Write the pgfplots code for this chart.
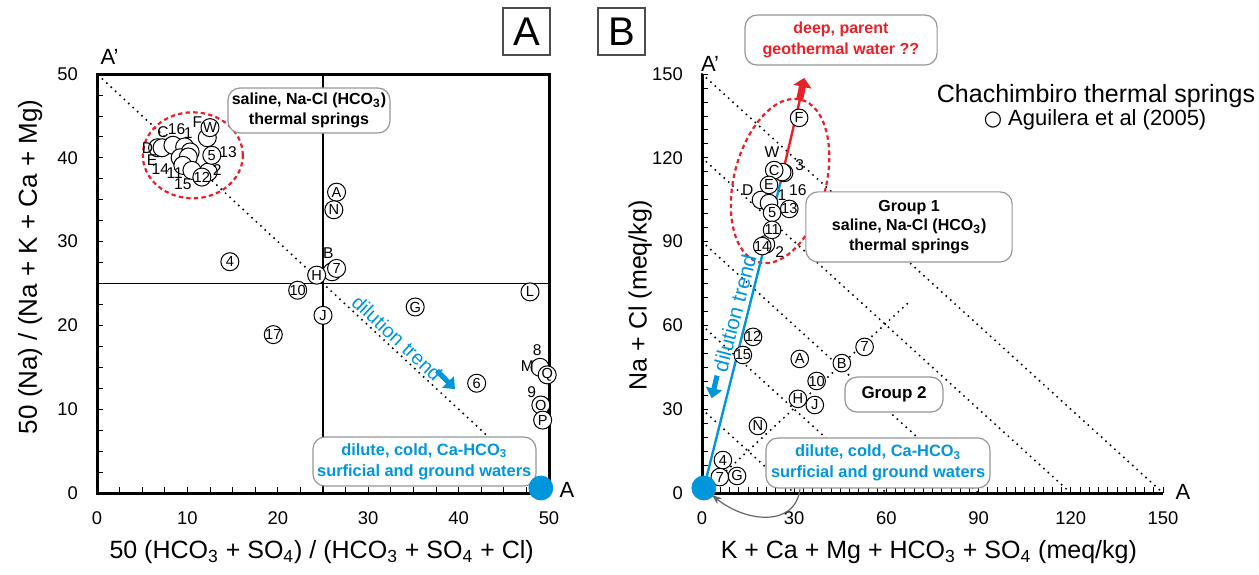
\documentclass[border=0pt]{standalone}
\usepackage{fontspec}
\setmainfont{Liberation Sans}
\newfontfamily\dejavu{DejaVu Sans}
\usepackage{pgfplots}
\usepackage{pgfplotstable}
\pgfplotsset{compat=1.18}
\usetikzlibrary{arrows.meta,shapes.geometric}
\definecolor{myblue}{RGB}{0,150,219}
\definecolor{myred}{RGB}{232,32,40}
\definecolor{boxgray}{RGB}{150,150,150}
\newcommand{\fs}[2]{\fontsize{#1}{#2}\selectfont}

% Panel A: circles with label inside
\pgfplotstableread{
x y lab
12.5 43.6 W
12.7 40.3 5
11.6 37.7 12
26.5 35.9 A
26.2 33.8 N
26.5 26.8 7
24.3 26.0 H
22.2 24.2 10
25.0 21.2 J
19.5 18.9 17
14.7 27.6 4
35.2 22.2 G
47.9 24.0 L
42.0 13.1 6
49.8 14.1 Q
49.1 10.5 O
49.3 8.7 P
}\Ain
% Panel A: circles without inner label
\pgfplotstableread{
x y
6.7 41.2
7.2 41.2
8.4 41.5
9.7 41.3
12.2 42.4
10.3 40.7
9.2 40.0
10.1 40.1
9.5 39.1
10.5 38.5
12.3 38.3
26.0 26.4
49.0 15.0
}\Anol
% Panel A: outside labels
\pgfplotstableread{
x y lab
11.1 44.2 F
7.3 43.1 C
8.8 43.4 16
10.1 43.0 1
5.6 41.2 D
6.1 39.7 E
7.0 38.6 14
8.6 38.2 11
9.5 36.8 15
14.5 40.7 13
13.3 38.5 2
25.6 28.6 B
48.7 17.1 8
47.6 15.2 M
48.1 12.0 9
}\Aout

% Panel B
\pgfplotstableread{
x y
26.7 114.6
26.1 114.9
19.2 104.9
21.8 103.8
20.8 89.0
}\Bnol
\pgfplotstableread{
x y lab
31.6 134.3 F
23.5 115.6 C
21.8 110.3 E
22.8 100.3 5
28.4 101.7 13
22.8 94.2 11
19.6 88.4 14
16.6 55.9 12
13.3 49.4 15
31.8 48.0 A
45.5 46.5 B
52.9 52.3 7
37.3 40.1 10
31.2 33.7 H
36.7 31.5 J
18.2 24.0 N
6.8 11.8 4
5.8 5.7 7
11.4 6.1 G
}\Bin
\pgfplotstableread{
x y lab
22.8 122.1 W
31.8 117.4 3
14.9 108.5 D
26.0 106.7 1
31.2 108.5 16
25.3 86.3 2
}\Bout

\tikzset{bx/.style={draw=boxgray, fill=white, rounded corners=6pt, line width=0.6pt}}
\pgfplotsset{
  ptA/.style={only marks, mark=*, mark size=4.5pt, mark options={fill=white, draw=black, line width=0.5pt}},
  ptB/.style={only marks, mark=*, mark size=4.4pt, mark options={fill=white, draw=black, line width=0.5pt}},
  labs/.style={nodes near coords, point meta=explicit symbolic, nodes near coords align={center},
     nodes near coords style={anchor=center, inner sep=0pt, font=\fs{7.3}{8}}},
  outl/.style={only marks, mark=none, nodes near coords, point meta=explicit symbolic, nodes near coords align={center},
     nodes near coords style={anchor=center, inner sep=0pt, font=\fs{7.8}{9}}},
  dotl/.style={black, line width=1.1pt, line cap=round, dash pattern=on 0pt off 3pt},
  common/.style={scale only axis, tick align=inside,
     major tick length=3pt, minor tick length=3pt,
     tick style={black, line width=0.4pt},
     axis line style={line width=1.5pt},
     ticklabel style={font=\fs{9.2}{11}},
     /pgf/number format/assume math mode=true,
     xticklabel style={yshift=-6pt}, yticklabel style={xshift=-6pt},
     clip=false},
}

\begin{document}
\begin{tikzpicture}
\path[use as bounding box] (0,0) rectangle (629.5pt,-287pt);

% ---------------- Panel A ----------------
\begin{axis}[common,
  at={(48.5pt,-246.5pt)}, anchor=south west, width=226pt, height=209.5pt,
  xmin=0,xmax=50,ymin=0,ymax=50,
  xtick={0,10,...,50}, ytick={0,10,...,50},
  minor xtick={0,2.5,...,50}, minor ytick={0,2.5,...,50},
  tick pos=left,
  xlabel={50 (HCO\textsubscript{3} + SO\textsubscript{4}) / (HCO\textsubscript{3} + SO\textsubscript{4} + Cl)},
  ylabel={50 (Na) / (Na + K + Ca + Mg)},
  xlabel style={font=\fs{12.5}{15}, at={(axis description cs:0.497,-0.141)}, anchor=center},
  ylabel style={font=\fs{13}{15}, at={(axis description cs:-0.148,0.54)}, anchor=center},
]
\addplot[black, line width=0.6pt] coordinates {(0,25) (50,25)};
\addplot[black, line width=0.6pt] coordinates {(25,0) (25,50)};
\addplot[dotl] coordinates {(0.6,49.4) (50,0)};
\node[draw=myred, line width=1.1pt, dash pattern=on 2.2pt off 1.6pt, ellipse, minimum width=50pt, minimum height=43pt, inner sep=0pt] at (axis cs:10.6,40.3) {};
\draw[bx] (axis cs:14.49,48.33) rectangle (axis cs:32.41,42.96);
\node[font=\bfseries\fs{8}{10}, align=center] at (axis cs:23.45,45.65) {saline, Na-Cl (HCO\textsubscript{3})\\thermal springs};
\draw[bx] (axis cs:23.89,6.68) rectangle (axis cs:48.56,0.84);
\node[font=\bfseries\fs{8.2}{10.5}, align=center, text=myblue] at (axis cs:36.2,3.76) {dilute, cold, Ca-HCO\textsubscript{3}\\surficial and ground waters};
\addplot[ptA] table[x=x,y=y] {\Anol};
\addplot[ptA, labs] table[x=x,y=y,meta=lab] {\Ain};
\addplot[outl] table[x=x,y=y,meta=lab] {\Aout};
\addplot[only marks, mark=*, mark size=6pt, mark options={fill=myblue, draw=myblue}] coordinates {(49.1,0.6)};
\node[font=\fs{11}{13}] at (axis cs:1.4,52.0) {A'};
\node[font=\fs{11}{13}] at (axis cs:52.0,0.4) {A};
\node[rotate=-43, font=\fs{10}{12}, text=myblue] at (axis cs:33.2,18.5) {dilution trend};
\draw[myblue, line width=2.6pt, -{Triangle[length=5pt,width=8pt]}] (axis cs:37.6,14.6) -- (axis cs:39.6,12.4);
\end{axis}

% ---------------- Panel B ----------------
\begin{axis}[common,
  at={(351pt,-246.5pt)}, anchor=south west, width=230.5pt, height=209.5pt,
  xmin=0,xmax=150,ymin=0,ymax=150,
  axis lines*=left,
  xtick={0,30,...,150}, ytick={0,30,...,150},
  minor xtick={0,3,...,150}, minor ytick={0,5,...,150},
  xlabel={K + Ca + Mg + HCO\textsubscript{3} + SO\textsubscript{4} (meq/kg)},
  ylabel={Na + Cl (meq/kg)},
  xlabel style={font=\fs{12.5}{15}, at={(axis description cs:0.492,-0.141)}, anchor=center},
  ylabel style={font=\fs{12.5}{15}, at={(axis description cs:-0.134,0.472)}, anchor=center},
]
\addplot[dotl] coordinates {(0,150) (150,0)};
\addplot[dotl] coordinates {(0,120) (120,0)};
\addplot[dotl] coordinates {(0,90) (90,0)};
\addplot[dotl] coordinates {(0,60) (60,0)};
\addplot[dotl] coordinates {(0,30) (30,0)};
\addplot[dotl] coordinates {(8,8) (68,69)};
\node[draw=myred, line width=1.1pt, dash pattern=on 2.2pt off 1.6pt, ellipse, minimum width=46pt, minimum height=84pt, inner sep=0pt, rotate=-14.4] at (axis cs:25.4,111.7) {};
\draw[bx] (axis cs:14.0,171.1) rectangle (axis cs:76.5,153.2);
\node[font=\bfseries\fs{8}{10.5}, align=center, text=myred] at (axis cs:45.2,162.2) {deep, parent\\geothermal water ??};
\draw[bx] (axis cs:33.8,107.8) rectangle (axis cs:100.9,82.7);
\node[font=\bfseries\fs{8}{9.8}, align=center] at (axis cs:67.4,95.2) {Group 1\\saline, Na-Cl (HCO\textsubscript{3})\\thermal springs};
\draw[bx] (axis cs:46.5,41.5) rectangle (axis cs:78.4,29.0);
\node[font=\bfseries\fs{8.5}{10}, align=center] at (axis cs:62.5,35.3) {Group 2};
\draw[bx] (axis cs:20.8,19.7) rectangle (axis cs:93.7,1.8);
\node[font=\bfseries\fs{8.2}{10.5}, align=center, text=myblue] at (axis cs:57.3,10.7) {dilute, cold, Ca-HCO\textsubscript{3}\\surficial and ground waters};
\addplot[myblue, line width=1.2pt] coordinates {(0.6,1.8) (25.5,111)};
\addplot[myred, line width=1.2pt] coordinates {(25.5,111) (32.0,141.5)};
\draw[myred, line width=3.5pt, -{Triangle[length=4.5pt,width=9pt]}] (axis cs:31.7,140.5) -- (axis cs:33.3,148.6);
\addplot[ptB] table[x=x,y=y] {\Bnol};
\addplot[ptB, labs] table[x=x,y=y,meta=lab] {\Bin};
\addplot[outl] table[x=x,y=y,meta=lab] {\Bout};
\addplot[only marks, mark=*, mark size=6pt, mark options={fill=myblue, draw=myblue}] coordinates {(0.6,1.8)};
\node[rotate=75.5, font=\fs{10.5}{12}, text=myblue] at (axis cs:10.6,64.4) {dilution trend};
\draw[myblue, line width=2.6pt, -{Triangle[length=5pt,width=8pt]}] (axis cs:4.9,42.0) -- (axis cs:3.15,33.9);
\node[font=\fs{11}{13}] at (axis cs:2.6,153.5) {A'};
\node[font=\fs{11}{13}] at (axis cs:156.5,0.4) {A};
\node[font=\fs{12.5}{15}] at (axis cs:128.2,142.1) {Chachimbiro thermal springs};
\node[font=\fs{11}{13}] at (axis cs:127.9,133.5) {{\dejavu\fs{10.5}{12}○} Aguilera et al (2005)};
\end{axis}

\begin{scope}[x=0.5pt,y=-0.5pt]
\draw[black!60, line width=0.6pt, -{Stealth[length=5pt]}] (800,489) .. controls (795,528) and (745,522) .. (712,495);
\draw[black!70, line width=0.6pt] (503,8) rectangle (550,55);
\node[font=\fs{20}{24}] at (526.5,32) {A};
\draw[black!70, line width=0.6pt] (598,8) rectangle (645,55);
\node[font=\fs{20}{24}] at (621.5,32) {B};
\end{scope}
\end{tikzpicture}
\end{document}
